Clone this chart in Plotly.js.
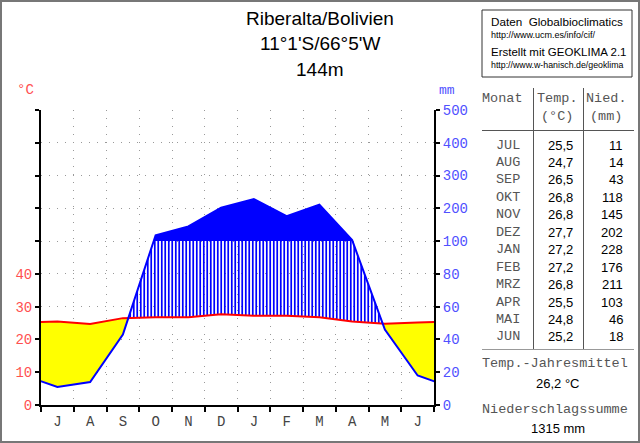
<!DOCTYPE html>
<html><head><meta charset="utf-8">
<script src="https://cdn.plot.ly/plotly-3.0.1.min.js"></script>
<style>html,body{margin:0;padding:0;background:#fff}#c{width:640px;height:443px}</style>
</head><body><div id="c"></div>
<script>
// ---- data ----
const monthNames = ['JUL','AUG','SEP','OKT','NOV','DEZ','JAN','FEB','MRZ','APR','MAI','JUN'];
const monthLetters = ['J','A','S','O','N','D','J','F','M','A','M','J'];
const temperature = [25.5,24.7,26.5,26.8,26.8,27.7,27.2,27.2,26.8,25.5,24.8,25.2];
const precipitation = [11,14,43,118,145,202,228,176,211,103,46,18];
const tempTickText = ['0','10','20','30','40','','','','',''];
const precTickText = ['0','20','40','60','80','100','200','300','400','500'];
const titleLines = ['Riberalta/Bolivien', "11°1'S/66°5'W", '144m'];
const infoLines = ['Daten&nbsp;&nbsp;Globalbioclimatics','http://www.ucm.es/info/cif/','Erstellt mit GEOKLIMA 2.1','http://www.w-hanisch.de/geoklima'];

// ---- scale helpers ----
// one y unit = 1 °C = 2 mm (up to 100 mm), above 100 mm: 1 unit = 10 mm
function pu(p){ return p <= 100 ? p/2 : 50 + (p-100)/10; }
const n = temperature.length;
const xs = [-0.5].concat(temperature.map((_,i)=>i+0.5)).concat([n+0.5]);
const tE = [temperature[n-1]].concat(temperature).concat([temperature[0]]);
const pE = [precipitation[n-1]].concat(precipitation).concat([precipitation[0]]).map(pu);

// insert crossing points so fill boundaries follow the lines exactly
function addCrossings(pts, diff){
  const out=[];
  for(let i=0;i<pts.length;i++){
    out.push(pts[i]);
    if(i<pts.length-1){
      const d0=diff(pts[i]), d1=diff(pts[i+1]);
      if(d0*d1<0){
        const f=d0/(d0-d1), a=pts[i], b=pts[i+1];
        out.push({x:a.x+f*(b.x-a.x), t:a.t+f*(b.t-a.t), p:a.p+f*(b.p-a.p)});
      }
    }
  }
  return out;
}
let pts = xs.map((x,i)=>({x:x,t:tE[i],p:pE[i]}));
pts = addCrossings(pts, q=>q.t-q.p);
pts = addCrossings(pts, q=>q.p-50);
const X = pts.map(q=>q.x);

const none = {width:0};
const base = {type:'scatter', mode:'lines', hoverinfo:'skip', showlegend:false};
const traces = [
  Object.assign({}, base, {x:X, y:pts.map(q=>Math.min(q.t,q.p)), line:none}),
  Object.assign({}, base, {x:X, y:pts.map(q=>q.t), line:none, fill:'tonexty', fillcolor:'#ffff00'}),
  Object.assign({}, base, {x:X, y:pts.map(q=>q.t), line:none}),
  Object.assign({}, base, {x:X, y:pts.map(q=>Math.max(q.t, Math.min(q.p,50))), line:none, fill:'tonexty',
      fillcolor:'rgba(255,255,255,0)', fillpattern:{shape:'|', fgcolor:'#0000ff', bgcolor:'rgba(255,255,255,0)', size:3.5, solidity:0.5}}),
  Object.assign({}, base, {x:X, y:pts.map(q=>50), line:none}),
  Object.assign({}, base, {x:X, y:pts.map(q=>Math.max(q.p,50)), line:none, fill:'tonexty', fillcolor:'#0000ff'}),
  Object.assign({}, base, {x:xs, y:tE, line:{color:'#ff0000', width:2}}),
  Object.assign({}, base, {x:xs, y:pE, line:{color:'#0000ff', width:2}}),
  Object.assign({}, base, {x:[0.5], y:[0], xaxis:'x2', yaxis:'y', line:none, opacity:0}),
  Object.assign({}, base, {x:[0.5], y:[0], xaxis:'x', yaxis:'y2', line:none, opacity:0})
];

// ---- layout helpers (pixel -> paper) ----
const W=640, H=443, ML=41, MR=206, MT=110, MB=38;
const PW=W-ML-MR, PH=H-MT-MB;
const px = x => (x-ML)/PW;
const py = y => (H-MB-y)/PH;

const sans = 'Liberation Sans, Arial, sans-serif';
const mono = 'Liberation Mono, Courier New, monospace';
const ann = [];
function txt(x,y,text,opt){
  ann.push(Object.assign({xref:'paper', yref:'paper', x:px(x), y:py(y), text:text, showarrow:false,
    xanchor:'center', yanchor:'middle', font:{family:sans, size:13, color:'#000'}}, opt||{}));
}
titleLines.forEach((t,i)=>txt(320, 18+i*26, t, {font:{family:sans,size:19,color:'#000'}}));
txt(25, 90, '°C', {font:{family:mono,size:14,color:'#ff5050'}});
txt(447, 91, 'mm', {font:{family:mono,size:13,color:'#5050ff'}});
txt(489, 21, infoLines[0], {xanchor:'left', font:{family:sans,size:11.7,color:'#000'}});
txt(489, 35, infoLines[1], {xanchor:'left', font:{family:sans,size:9,color:'#000'}});
txt(489, 52, infoLines[2], {xanchor:'left', font:{family:sans,size:11.5,color:'#000'}});
txt(489, 65, infoLines[3], {xanchor:'left', font:{family:sans,size:8.8,color:'#000'}});
const hdr = {font:{family:mono,size:13.5,color:'#555'}};
txt(502, 98, 'Monat', hdr);
txt(557, 98, 'Temp.', hdr);
txt(557, 117, '(°C)', hdr);
txt(606, 98, 'Nied.', hdr);
txt(606, 117, '(mm)', hdr);
const fmt = v => v.toFixed(1).replace('.',',');
monthNames.forEach((m,i)=>{
  const y = 145 + i*17.45;
  txt(508, y, m, hdr);
  txt(575, y, fmt(temperature[i]), {xanchor:'right', font:{family:sans,size:13,color:'#000'}});
  txt(625, y, String(precipitation[i]), {xanchor:'right', font:{family:sans,size:13,color:'#000'}});
});
const meanT = temperature.reduce((a,b)=>a+b,0)/n;
const sumP = precipitation.reduce((a,b)=>a+b,0);
txt(555, 363, 'Temp.-Jahresmittel', hdr);
txt(558, 383, fmt(meanT)+' °C', {font:{family:sans,size:13,color:'#000'}});
txt(555, 409, 'Niederschlagssumme', hdr);
txt(558, 428, String(sumP)+' mm', {font:{family:sans,size:13,color:'#000'}});

const shapes = [
  {type:'rect', xref:'paper', yref:'paper', x0:px(1), x1:px(639), y0:py(1), y1:py(442), line:{color:'#777', width:2}},
  {type:'rect', xref:'paper', yref:'paper', x0:px(482), x1:px(632), y0:py(10), y1:py(77), line:{color:'#333', width:1}},
  {type:'line', xref:'paper', yref:'paper', x0:px(533.5), x1:px(533.5), y0:py(88), y1:py(349), line:{color:'#555', width:1}},
  {type:'line', xref:'paper', yref:'paper', x0:px(583.5), x1:px(583.5), y0:py(88), y1:py(349), line:{color:'#555', width:1}},
  {type:'line', xref:'paper', yref:'paper', x0:px(482), x1:px(634), y0:py(130.5), y1:py(130.5), line:{color:'#555', width:1}},
  {type:'line', xref:'paper', yref:'paper', x0:px(482), x1:px(634), y0:py(349.5), y1:py(349.5), line:{color:'#999', width:1}}
];

const yTicks = tempTickText.map((_,i)=>i*10);
const grid = {showgrid:true, gridcolor:'#999', gridwidth:1, griddash:'1px,7px'};
const layout = {
  width:W, height:H, margin:{l:ML, r:MR, t:MT, b:MB, pad:0},
  paper_bgcolor:'#fff', plot_bgcolor:'#fff', showlegend:false,
  xaxis:Object.assign({range:[0,n], tickmode:'array', tickvals:monthLetters.map((_,i)=>i).concat([n]),
    ticktext:monthLetters.map(()=>'').concat(['']), ticks:'outside', ticklen:5, tickwidth:2, tickcolor:'#000',
    showline:true, linecolor:'#000', linewidth:2, zeroline:false, fixedrange:true}, grid),
  xaxis2:{overlaying:'x', anchor:'y', side:'bottom', range:[0,n], tickmode:'array',
    tickvals:monthLetters.map((_,i)=>i+0.5), ticktext:monthLetters, ticks:'', showline:false, showgrid:false,
    zeroline:false, tickfont:{family:mono, size:14, color:'#444'}, ticklabelstandoff:6, fixedrange:true},
  yaxis:Object.assign({range:[0,90], tickmode:'array', tickvals:yTicks, ticktext:tempTickText,
    ticks:'outside', ticklen:4, tickwidth:2, tickcolor:'#000', showline:true, linecolor:'#000', linewidth:2,
    zeroline:false, tickfont:{family:mono, size:14, color:'#ff5050'}, fixedrange:true}, grid),
  yaxis2:{overlaying:'y', side:'right', anchor:'x', range:[0,90], tickmode:'array', tickvals:yTicks, ticktext:precTickText,
    ticks:'outside', ticklen:4, tickwidth:2, tickcolor:'#000', showline:true, linecolor:'#000', linewidth:2,
    showgrid:false, zeroline:false, tickfont:{family:mono, size:14, color:'#5050ff'}, fixedrange:true},
  annotations:ann, shapes:shapes
};
Plotly.newPlot('c', traces, layout, {staticPlot:true, displayModeBar:false});
</script></body></html>
